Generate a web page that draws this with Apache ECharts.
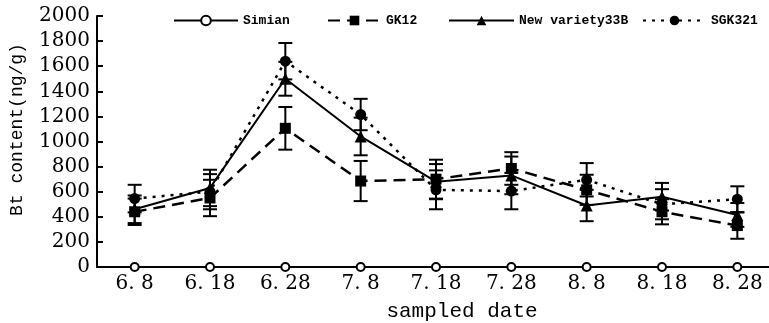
<!DOCTYPE html>
<html>
<head>
<meta charset="utf-8">
<script src="https://cdn.jsdelivr.net/npm/echarts@6/dist/echarts.min.js"></script>
<style>html,body{margin:0;padding:0;background:#fff;}#c{width:769px;height:323px;}</style>
</head>
<body>
<div id="c"></div>
<script>
const categories = ['6. 8','6. 18','6. 28','7. 8','7. 18','7. 28','8. 8','8. 18','8. 28'];
const simian = [0,0,0,0,0,0,0,0,0];
const gk12 = [440,550,1105,685,700,785,615,440,330];
const gk12Err = [105,145,170,160,155,130,120,100,105];
const nv33b = [460,630,1500,1040,680,730,490,560,415];
const nv33bErr = [110,145,135,150,140,150,125,110,95];
const sgk321 = [545,600,1640,1215,615,605,695,500,540];
const sgk321Err = [110,140,145,125,155,145,133,120,103];
const yTicks = {min:0, max:2000, interval:200};

const chart = echarts.init(document.getElementById('c'));
function errSeries(vals, errs){
  return {
    type:'custom', silent:true, z:1,
    data: vals.map((v,i)=>[i, v, errs[i]]),
    encode:{x:0,y:1},
    renderItem:function(params, api){
      const i = api.value(0), v = api.value(1), e = api.value(2);
      const t = api.coord([i, v+e]), b = api.coord([i, v-e]);
      const hw = 7;
      const st = {stroke:'#000', lineWidth:2};
      return {type:'group', children:[
        {type:'line', shape:{x1:t[0],y1:t[1],x2:b[0],y2:b[1]}, style:st},
        {type:'line', shape:{x1:t[0]-hw,y1:t[1],x2:t[0]+hw,y2:t[1]}, style:st},
        {type:'line', shape:{x1:b[0]-hw,y1:b[1],x2:b[0]+hw,y2:b[1]}, style:st}
      ]};
    }
  };
}
const legText = {fontFamily:'Liberation Mono', fontWeight:'bold', fontSize:13, color:'#000'};
const serif = 'DejaVu Serif';
chart.setOption({
  animation:false,
  backgroundColor:'#fff',
  grid:{left:97, right:-6, top:16, bottom:56, containLabel:false, outerBoundsMode:'none'},
  legend:[
    {data:['Simian'], left:168, top:9, itemWidth:64, itemHeight:12, textStyle:legText},
    {data:['GK12'], left:322, top:9, itemWidth:53, itemHeight:12, textStyle:legText},
    {data:['New variety33B'], left:443, top:9, itemWidth:65, itemHeight:12, textStyle:legText},
    {data:['SGK321'], left:637, top:9, itemWidth:63, itemHeight:12, textStyle:legText}
  ],
  xAxis:{
    type:'category', data:categories, boundaryGap:true,
    axisLine:{lineStyle:{color:'#000', width:2}},
    axisTick:{inside:true, length:6, lineStyle:{color:'#000', width:2}},
    axisLabel:{color:'#000', fontFamily:serif, fontSize:20, margin:7},
    name:'sampled date', nameLocation:'middle', nameGap:34,
    nameTextStyle:{color:'#000', fontFamily:'Liberation Mono', fontSize:21, padding:[0,0,0,52]}
  },
  yAxis:{
    type:'value', min:yTicks.min, max:yTicks.max, interval:yTicks.interval,
    splitLine:{show:false},
    axisLine:{show:true, lineStyle:{color:'#000', width:2}},
    axisTick:{show:true, inside:true, length:6, lineStyle:{color:'#000', width:2}},
    axisLabel:{color:'#000', fontFamily:serif, fontSize:20, margin:7, formatter:function(v){return String(v);}},
    name:'Bt content(ng/g)', nameLocation:'middle', nameGap:71, nameRotate:90,
    nameTextStyle:{color:'#000', fontFamily:'Liberation Mono', fontSize:18, padding:[0,0,0,24]}
  },
  series:[
    {name:'Simian', type:'line', data:simian, symbol:'emptyCircle', symbolSize:8, z:3,
     lineStyle:{color:'#000', width:2, type:'solid'}, itemStyle:{color:'#000', borderColor:'#000', borderWidth:2}},
    {name:'GK12', type:'line', data:gk12, symbol:'rect', symbolSize:11, z:3,
     lineStyle:{color:'#000', width:2.5, type:[12,7]}, itemStyle:{color:'#000'}},
    {name:'New variety33B', type:'line', data:nv33b, symbol:'triangle', symbolSize:12, z:3,
     lineStyle:{color:'#000', width:2, type:'solid'}, itemStyle:{color:'#000'}},
    {name:'SGK321', type:'line', data:sgk321, symbol:'circle', symbolSize:11, z:3,
     lineStyle:{color:'#000', width:2.5, type:[3,6]}, itemStyle:{color:'#000'}},
    errSeries(gk12, gk12Err),
    errSeries(nv33b, nv33bErr),
    errSeries(sgk321, sgk321Err)
  ]
});
</script>
</body>
</html>
